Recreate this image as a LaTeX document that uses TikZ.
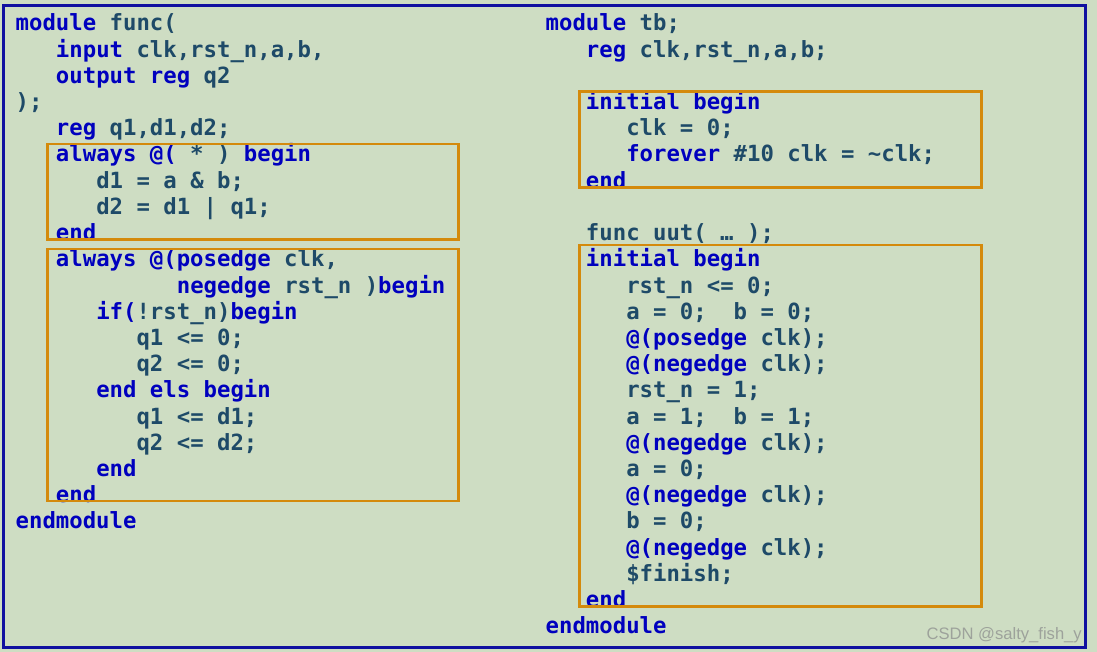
\documentclass[tikz,border=0pt]{standalone}
\usepackage{fontspec}
\setmonofont{DejaVu Sans Mono}
\newfontfamily\wmfont{Liberation Sans}
\definecolor{bg}{HTML}{CEDDC3}
\definecolor{kwc}{HTML}{0000BE}
\definecolor{txc}{HTML}{1E4A68}
\definecolor{framec}{HTML}{1010A0}
\definecolor{obc}{HTML}{D48A0C}
\definecolor{wmc}{HTML}{9DA29B}
\newcommand{\kw}[1]{\textcolor{kwc}{#1}}
\newcommand{\lline}[4]{\node[code] (#1) at ({15.5+13.43*#2},{31+26.2*#3}) {#4};}
\newcommand{\rline}[4]{\node[code] (#1) at ({545.5+13.43*#2},{31+26.2*#3}) {#4};}
\tikzset{
  code/.style={anchor=base west, inner sep=0pt, text=txc,
    font=\ttfamily\bfseries\fontsize{22.3}{26}\selectfont},
  obox/.style={draw=obc, line width=2.6pt},
  framebox/.style={draw=framec, line width=3.3pt}
}
\begin{document}
\begin{tikzpicture}[x=1pt,y=-1pt]
\useasboundingbox (0,0) rectangle (1097,652);
\fill[bg] (0,0) rectangle (1097,652);
% left column
\lline{l0}{0}{0}{\kw{module} func(}
\lline{l1}{3}{1}{\kw{input} clk,rst\_n,a,b,}
\lline{l2}{3}{2}{\kw{output reg} q2}
\lline{l3}{0}{3}{);}
\lline{l4}{3}{4}{\kw{reg} q1,d1,d2;}
\lline{l5}{3}{5}{\kw{always @(} * ) \kw{begin}}
\lline{l6}{6}{6}{d1 = a \& b;}
\lline{l7}{6}{7}{d2 = d1 | q1;}
\lline{l8}{3}{8}{\kw{end}}
\lline{l9}{3}{9}{\kw{always @(posedge} clk,}
\lline{l10}{12}{10}{\kw{negedge} rst\_n )\kw{begin}}
\lline{l11}{6}{11}{\kw{if(}!rst\_n)\kw{begin}}
\lline{l12}{9}{12}{q1 <= 0;}
\lline{l13}{9}{13}{q2 <= 0;}
\lline{l14}{6}{14}{\kw{end els begin}}
\lline{l15}{9}{15}{q1 <= d1;}
\lline{l16}{9}{16}{q2 <= d2;}
\lline{l17}{6}{17}{\kw{end}}
\lline{l18}{3}{18}{\kw{end}}
\lline{l19}{0}{19}{\kw{endmodule}}
% right column
\rline{r0}{0}{0}{\kw{module} tb;}
\rline{r1}{3}{1}{\kw{reg} clk,rst\_n,a,b;}
\rline{r3}{3}{3}{\kw{initial begin}}
\rline{r4}{6}{4}{clk = 0;}
\rline{r5}{6}{5}{\kw{forever} \#10 clk = \string~clk;}
\rline{r6}{3}{6}{\kw{end}}
\rline{r8}{3}{8}{func uut( … );}
\rline{r9}{3}{9}{\kw{initial begin}}
\rline{r10}{6}{10}{rst\_n <= 0;}
\rline{r11}{6}{11}{a = 0;\ \ b = 0;}
\rline{r12}{6}{12}{\kw{@(posedge} clk);}
\rline{r13}{6}{13}{\kw{@(negedge} clk);}
\rline{r14}{6}{14}{rst\_n = 1;}
\rline{r15}{6}{15}{a = 1;\ \ b = 1;}
\rline{r16}{6}{16}{\kw{@(negedge} clk);}
\rline{r17}{6}{17}{a = 0;}
\rline{r18}{6}{18}{\kw{@(negedge} clk);}
\rline{r19}{6}{19}{b = 0;}
\rline{r20}{6}{20}{\kw{@(negedge} clk);}
\rline{r21}{6}{21}{\$finish;}
\rline{r22}{3}{22}{\kw{end}}
\rline{r23}{0}{23}{\kw{endmodule}}
% orange boxes
\draw[obox] (47.3,144) rectangle (458.3,239.5);
\draw[obox] (47.3,249) rectangle (458.3,501);
\draw[obox] (579.5,91.8) rectangle (981.5,187.5);
\draw[obox] (579.5,245) rectangle (981.5,606.5);
% frame
\draw[framebox] (3.7,5.5) rectangle (1085.7,647.3);
% watermark
\node[anchor=base east, inner sep=0pt, text=wmc, font=\wmfont\fontsize{16.6}{18}\selectfont] (wm) at (1082,639.5) {CSDN @salty\_fish\_y};
\end{tikzpicture}
\end{document}
